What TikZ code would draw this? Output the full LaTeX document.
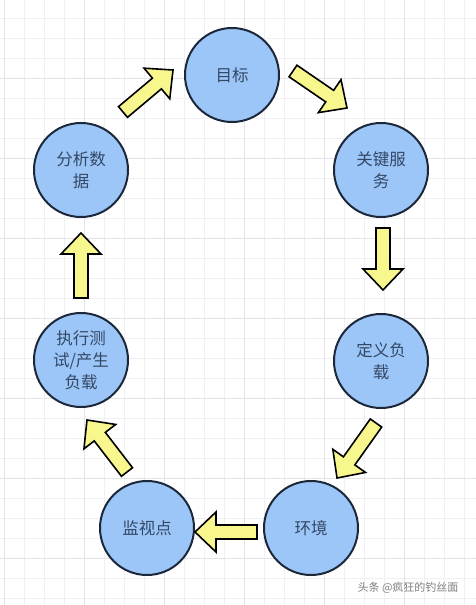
\documentclass[tikz,border=0pt]{standalone}
\usepackage{fontspec}
\newfontfamily\cjkfont{Noto Sans CJK SC}
\usetikzlibrary{calc}

\definecolor{stepfill}{RGB}{156,198,247}
\definecolor{stepline}{RGB}{28,40,58}
\definecolor{steptext}{RGB}{52,72,102}
\definecolor{arrowfill}{RGB}{247,247,142}
\definecolor{gridminor}{RGB}{240,240,244}
\definecolor{gridmajor}{RGB}{226,226,232}

% block arrow from #1 (tail) to #2 (tip)
\newcommand\fatarrow[2]{%
  \coordinate (hb) at ($(#2)!21pt!(#1)$);
  \draw[fat] ($(#1)!7pt!90:(#2)$) -- ($(hb)!7pt!90:(#2)$) -- ($(hb)!20pt!90:(#2)$)
    -- (#2) -- ($(hb)!20pt!-90:(#2)$) -- ($(hb)!7pt!-90:(#2)$) -- ($(#1)!7pt!-90:(#2)$) -- cycle;
}

\begin{document}
\begin{tikzpicture}[x=1pt, y=-1pt,
  stepnode/.style={circle, draw=stepline, line width=2pt, fill=stepfill, minimum size=94pt,
    inner sep=0pt, align=center, text=steptext, font=\cjkfont\fontsize{16.5}{22}\selectfont},
  fat/.style={draw=black, line width=1.6pt, fill=arrowfill, line join=miter}]
  \useasboundingbox (0,0) rectangle (476,605);
  \fill[white] (0,0) rectangle (476,605);
  % grid
  \foreach \x in {4,24,...,476} \draw[gridminor, line width=1pt] (\x,0) -- (\x,605);
  \foreach \y in {-2,18,...,605} \draw[gridminor, line width=1pt] (0,\y) -- (476,\y);
  \foreach \x in {4,84,...,476} \draw[gridmajor, line width=1pt] (\x,0) -- (\x,605);
  \foreach \y in {78,158,...,605} \draw[gridmajor, line width=1pt] (0,\y) -- (476,\y);

  \node[stepnode] (goal) at (232, 75) {目标};
  \node[stepnode] (keysvc) at (381, 170) {关键服\\务};
  \node[stepnode] (defload) at (381, 361) {定义负\\载};
  \node[stepnode] (env) at (311, 528) {环境};
  \node[stepnode] (monitor) at (147, 528) {监视点};
  \node[stepnode] (runtest) at (81, 360) {执行测\\试/产生\\负载};
  \node[stepnode] (analyze) at (81, 170) {分析数\\据};

  \coordinate (a1s) at (123, 112);
  \coordinate (a1e) at (173, 70);
  \coordinate (a2s) at (293, 71);
  \coordinate (a2e) at (347, 108);
  \coordinate (a3s) at (383, 228);
  \coordinate (a3e) at (383, 290);
  \coordinate (a4s) at (376, 423);
  \coordinate (a4e) at (337, 478);
  \coordinate (a5s) at (257, 532);
  \coordinate (a5e) at (195, 532);
  \coordinate (a6s) at (127, 472);
  \coordinate (a6e) at (87, 420);
  \coordinate (a7s) at (81, 298);
  \coordinate (a7e) at (81, 233);
  \fatarrow{a1s}{a1e}
  \fatarrow{a2s}{a2e}
  \fatarrow{a3s}{a3e}
  \fatarrow{a4s}{a4e}
  \fatarrow{a5s}{a5e}
  \fatarrow{a6s}{a6e}
  \fatarrow{a7s}{a7e}

  \node[text=black!50, font=\cjkfont\fontsize{11}{13}\selectfont] (mark) at (408, 588) {头条 @疯狂的钓丝面};
\end{tikzpicture}
\end{document}
